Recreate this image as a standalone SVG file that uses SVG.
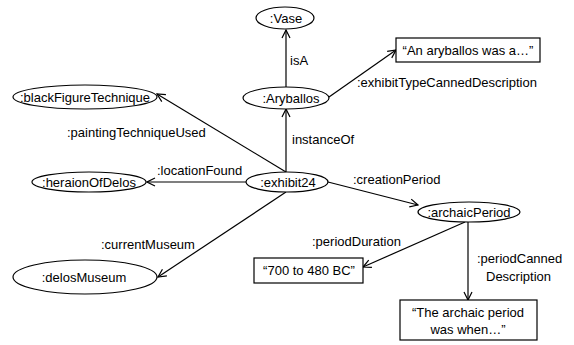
<svg xmlns="http://www.w3.org/2000/svg" width="574" height="345" viewBox="0 0 574 345">
<style>
text{font-family:"Liberation Sans",Arial,sans-serif;font-size:13px;fill:#000}
.c{text-anchor:middle}
.n{fill:#fff;stroke:#000;stroke-width:1.2}
.e{stroke:#000;stroke-width:1.2;fill:none;marker-end:url(#a)}
</style>
<defs>
<marker id="a" viewBox="0 0 10 10" refX="9" refY="5" markerWidth="10" markerHeight="10" markerUnits="userSpaceOnUse" orient="auto">
<path d="M1,1 L9,5 L1,9" fill="none" stroke="#000" stroke-width="1.2"/>
</marker>
</defs>
<rect width="574" height="345" fill="#fff"/>
<g id="connectors">
<line class="e" x1="286" y1="87" x2="286" y2="30"/>
<line class="e" x1="286" y1="172" x2="286" y2="109"/>
<line class="e" x1="329" y1="97" x2="396" y2="50"/>
<line class="e" x1="286" y1="172" x2="157" y2="94"/>
<line class="e" x1="246" y1="182" x2="147" y2="182"/>
<line class="e" x1="286" y1="192" x2="158" y2="277"/>
<line class="e" x1="328" y1="182" x2="418" y2="205"/>
<line class="e" x1="465" y1="222" x2="363" y2="267"/>
<line class="e" x1="468" y1="222" x2="468" y2="300"/>
<text x="290" y="65">isA</text>
<text x="357" y="87">:exhibitTypeCannedDescription</text>
<text x="67" y="137">:paintingTechniqueUsed</text>
<text x="292" y="144">instanceOf</text>
<text x="157" y="175">:locationFound</text>
<text x="353" y="184">:creationPeriod</text>
<text x="101" y="249">:currentMuseum</text>
<text x="312" y="246">:periodDuration</text>
<text x="477" y="263">:periodCanned</text>
<text x="486" y="281">Description</text>
</g>
<g id="vase"><ellipse class="n" cx="285" cy="18" rx="29" ry="11"/><text class="c" x="286" y="23">:Vase</text></g>
<g id="aryballos"><ellipse class="n" cx="286" cy="98" rx="43" ry="11"/><text class="c" x="291" y="103">:Aryballos</text></g>
<g id="aryballosDesc"><rect class="n" x="396" y="38" width="144" height="24"/><text class="c" x="468" y="55">“An aryballos was a…”</text></g>
<g id="blackFigureTechnique"><ellipse class="n" cx="85" cy="97" rx="72" ry="12"/><text class="c" x="85" y="102">:blackFigureTechnique</text></g>
<g id="heraionOfDelos"><ellipse class="n" cx="89" cy="182" rx="57" ry="10"/><text class="c" x="89" y="187">:heraionOfDelos</text></g>
<g id="exhibit24"><ellipse class="n" cx="287" cy="182" rx="41" ry="10"/><text class="c" x="288" y="187">:exhibit24</text></g>
<g id="delosMuseum"><ellipse class="n" cx="85" cy="277" rx="72" ry="17"/><text class="c" x="84" y="282">:delosMuseum</text></g>
<g id="archaicPeriod"><ellipse class="n" cx="469" cy="212" rx="51" ry="10"/><text class="c" x="469" y="217">:archaicPeriod</text></g>
<g id="periodDuration"><rect class="n" x="254" y="258" width="109" height="25"/><text class="c" x="309" y="275">“700 to 480 BC”</text></g>
<g id="periodDesc"><rect class="n" x="400" y="300" width="137" height="40"/><text class="c" x="468" y="317">“The archaic period</text><text class="c" x="468" y="334">was when…”</text></g>
</svg>
